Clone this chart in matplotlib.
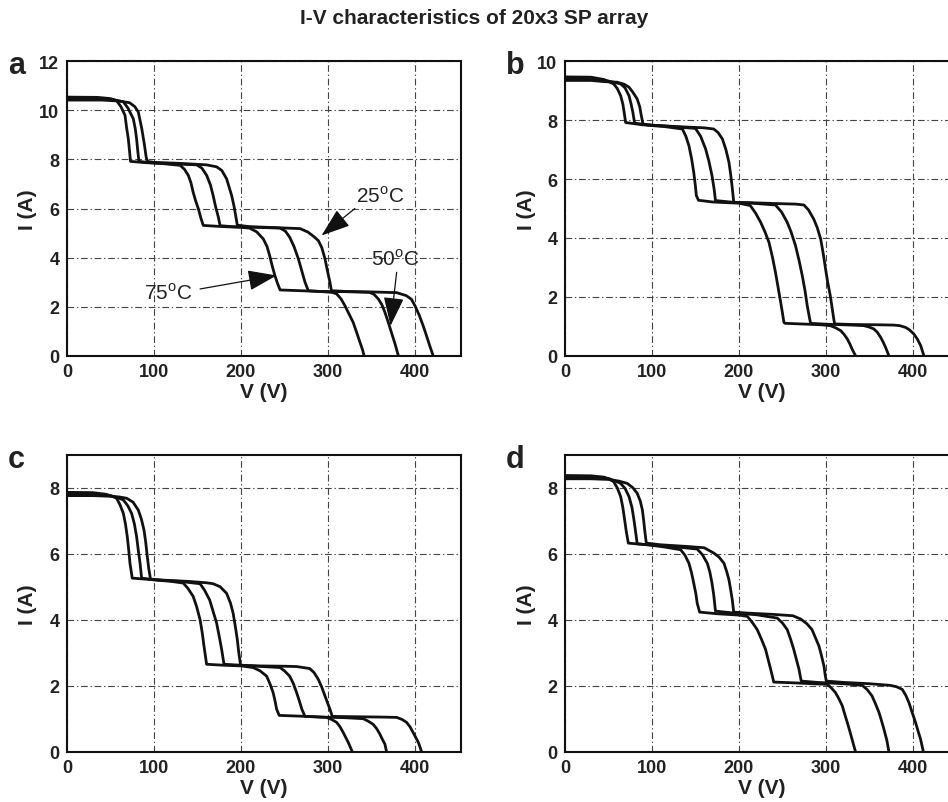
import matplotlib
matplotlib.use("Agg")
import matplotlib.pyplot as plt

plt.rcParams["font.family"] = ["Liberation Sans", "DejaVu Sans"]
plt.rcParams["mathtext.fontset"] = "custom"
plt.rcParams["mathtext.rm"] = "Liberation Sans"

# ---------------- panel a ----------------
v_a_25 = [0, 40, 60, 72, 78, 82, 86, 89, 91, 92.5,
          100, 130, 160, 172, 178, 183.5, 187, 189.3, 192, 194, 195.8,
          210, 240, 268, 277, 284, 289, 293, 296.6, 299.5, 302.3, 304,
          320, 350, 379, 390, 396, 400, 405, 409.5, 413, 417, 421]
i_a_25 = [10.42, 10.42, 10.38, 10.31, 10.15, 9.93, 9.25, 8.6, 8.1, 7.92,
          7.88, 7.84, 7.78, 7.7, 7.55, 7.21, 6.8, 6.53, 6.1, 5.7, 5.32,
          5.26, 5.22, 5.18, 5.04, 4.85, 4.69, 4.4, 3.95, 3.45, 3.0, 2.65,
          2.62, 2.6, 2.57, 2.45, 2.3, 2.04, 1.65, 1.22, 0.85, 0.41, 0.0]
v_a_50 = [0, 40, 55, 64.7, 70, 76.2, 78.5, 80, 81.5, 82.7,
          95, 120, 149, 155, 160.6, 165, 168, 171, 174, 176,
          190, 220, 245, 251, 256, 261, 266, 270, 273.6, 277.4,
          290, 320, 348, 353, 358, 362, 365.5, 369, 373, 377, 381]
i_a_50 = [10.48, 10.47, 10.42, 10.35, 10.1, 9.66, 9.25, 8.84, 8.3, 7.92,
          7.87, 7.82, 7.78, 7.65, 7.35, 6.95, 6.53, 6.05, 5.65, 5.3,
          5.26, 5.23, 5.2, 5.08, 4.83, 4.45, 3.95, 3.45, 3.0, 2.65,
          2.62, 2.61, 2.58, 2.5, 2.31, 2.08, 1.77, 1.4, 0.95, 0.5, 0.0]
v_a_75 = [0, 35, 50, 57, 62, 66.7, 68.5, 70.5, 72, 73,
          90, 110, 130, 135, 139.5, 142.5, 145, 148, 151, 154, 156.7,
          175, 200, 210, 218, 225.7, 230, 233, 236, 239, 242, 245,
          260, 290, 305, 310, 315, 319.5, 324, 329, 333, 336.8, 340, 341.5]
i_a_75 = [10.54, 10.53, 10.48, 10.4, 10.15, 9.8, 9.3, 8.84, 8.3, 7.92,
          7.87, 7.83, 7.76, 7.6, 7.35, 7.05, 6.67, 6.3, 5.99, 5.6, 5.31,
          5.27, 5.23, 5.2, 5.05, 4.76, 4.45, 4.08, 3.65, 3.27, 2.95, 2.68,
          2.66, 2.62, 2.58, 2.52, 2.32, 2.04, 1.72, 1.36, 0.95, 0.55, 0.22, 0.0]

# ---------------- panel b ----------------
v_b_25 = [0, 30, 45, 60, 68, 73.6, 78, 83, 86, 87, 89.6,
          100, 130, 160, 171, 176, 181, 185, 188.5, 190.5, 192, 193.2, 194,
          210, 240, 265, 274.7, 280, 286, 290, 294, 297, 299.6, 302, 305, 307, 309, 310,
          330, 360, 378, 385, 391.6, 396, 401, 405, 409, 412.6]
i_b_25 = [9.35, 9.35, 9.31, 9.29, 9.22, 9.12, 8.95, 8.72, 8.45, 8.27, 7.87,
          7.83, 7.78, 7.74, 7.7, 7.58, 7.36, 7.0, 6.57, 6.15, 5.78, 5.45, 5.21,
          5.2, 5.17, 5.15, 5.12, 4.95, 4.64, 4.35, 3.96, 3.45, 2.94, 2.5, 2.04, 1.65, 1.25, 1.08,
          1.06, 1.05, 1.04, 1.02, 0.96, 0.88, 0.74, 0.57, 0.34, 0.0]
v_b_50 = [0, 30, 50, 64, 69, 73.6, 76, 78, 80,
          95, 120, 150, 156, 161.7, 165.5, 169, 171.5, 173,
          190, 215, 242, 249, 255.5, 260, 265, 269, 272.8, 276, 278.5, 281, 282.4,
          300, 330, 343.7, 350, 355, 359, 363, 366, 368.6, 372.4]
i_b_50 = [9.41, 9.41, 9.33, 9.23, 9.1, 8.83, 8.55, 8.27, 7.9,
          7.84, 7.79, 7.72, 7.45, 7.02, 6.6, 6.12, 5.65, 5.27,
          5.22, 5.18, 5.12, 4.88, 4.53, 4.2, 3.74, 3.25, 2.72, 2.2, 1.7, 1.3, 1.1,
          1.07, 1.04, 1.02, 0.97, 0.91, 0.8, 0.62, 0.45, 0.28, 0.0]
v_b_75 = [0, 30, 45, 56, 60, 64, 66.5, 68, 69.7,
          90, 115, 135, 139, 142.5, 145.5, 148, 150, 151, 153.5,
          170, 200, 213, 219, 225, 230, 234.5, 238.5, 242, 245, 248, 250, 251.7, 253,
          270, 295, 305, 311, 317, 321, 324.5, 327.5, 330, 334]
i_b_75 = [9.47, 9.46, 9.38, 9.23, 9.08, 8.83, 8.55, 8.27, 7.92,
          7.84, 7.78, 7.7, 7.45, 7.13, 6.7, 6.23, 5.75, 5.44, 5.28,
          5.22, 5.18, 5.1, 4.85, 4.53, 4.2, 3.85, 3.35, 2.83, 2.32, 1.81, 1.45, 1.13, 1.1,
          1.08, 1.05, 1.02, 0.95, 0.85, 0.72, 0.57, 0.4, 0.23, 0.0]

# ---------------- panel c ----------------
v_c_25 = [0, 30, 50, 60, 68.6, 76, 82, 85.5, 88.5, 90.5, 92.3, 94, 96,
          110, 140, 160, 168, 176, 183.5, 188, 191, 193.5, 195.8, 197.5, 199.6,
          220, 250, 264, 279, 284, 289, 293, 296.6, 300, 302.3, 305,
          330, 360, 379, 385, 390.4, 394.5, 398, 401, 404, 407.7]
i_c_25 = [7.76, 7.76, 7.74, 7.72, 7.68, 7.56, 7.32, 7.05, 6.72, 6.35, 5.92, 5.55, 5.23,
          5.2, 5.16, 5.12, 5.09, 5.0, 4.8, 4.5, 4.2, 3.8, 3.4, 3.0, 2.62,
          2.6, 2.59, 2.58, 2.52, 2.4, 2.19, 1.95, 1.69, 1.45, 1.29, 1.07,
          1.06, 1.05, 1.04, 0.98, 0.89, 0.75, 0.58, 0.43, 0.28, 0.0]
v_c_50 = [0, 30, 50, 58, 64.8, 70, 74.3, 77.5, 80, 82, 84, 85.8,
          100, 130, 153, 158, 164, 168, 172, 175, 177.8, 180.5,
          200, 225, 245, 250, 256, 260, 264, 267, 270, 273.6,
          290, 320, 340.6, 346, 352, 356, 359.8, 362.5, 365.5, 367.4]
i_c_50 = [7.81, 7.81, 7.76, 7.7, 7.63, 7.45, 7.22, 6.9, 6.52, 6.1, 5.71, 5.26,
          5.21, 5.16, 5.09, 4.9, 4.6, 4.25, 3.9, 3.5, 3.1, 2.65,
          2.62, 2.58, 2.55, 2.45, 2.29, 2.08, 1.79, 1.55, 1.29, 1.07,
          1.05, 1.03, 1.0, 0.93, 0.83, 0.7, 0.53, 0.38, 0.23, 0.0]
v_c_75 = [0, 30, 45, 52, 57, 61, 64.8, 67.2, 69.3, 71, 72.4, 75,
          95, 120, 133.7, 139, 145, 149, 153, 155.5, 157.5, 160.5,
          180, 200, 214, 222, 229.5, 233.5, 237, 239.5, 241, 244,
          265, 285, 298.5, 304, 310, 314, 317.6, 320.5, 323.4, 328]
i_c_75 = [7.86, 7.85, 7.8, 7.74, 7.68, 7.48, 7.22, 6.9, 6.52, 6.1, 5.71, 5.26,
          5.22, 5.16, 5.11, 4.95, 4.71, 4.4, 4.0, 3.6, 3.2, 2.65,
          2.62, 2.6, 2.55, 2.45, 2.29, 2.05, 1.79, 1.5, 1.29, 1.1,
          1.08, 1.06, 1.04, 0.98, 0.89, 0.75, 0.58, 0.43, 0.28, 0.0]

# ---------------- panel d ----------------
v_d_25 = [0, 30, 50, 62, 71.6, 78, 83, 86.5, 89, 90.5, 91.6, 93.5,
          110, 140, 160, 171, 177, 182.8, 186, 188.5, 190.5, 192.3, 194,
          210, 240, 262, 271, 278, 284, 288, 292, 295, 297.7, 299, 300.4,
          320, 350, 374, 381, 387.7, 392, 395.4, 399, 403, 406, 408.8, 412]
i_d_25 = [8.27, 8.27, 8.25, 8.2, 8.13, 8.0, 7.83, 7.6, 7.32, 7.0, 6.72, 6.32,
          6.27, 6.22, 6.18, 6.02, 5.9, 5.71, 5.45, 5.21, 4.9, 4.61, 4.23,
          4.2, 4.16, 4.12, 4.02, 3.88, 3.7, 3.45, 3.2, 2.9, 2.6, 2.35, 2.14,
          2.1, 2.06, 2.01, 1.97, 1.89, 1.7, 1.49, 1.2, 0.89, 0.62, 0.38, 0.0]
v_d_50 = [0, 30, 50, 58, 64, 69, 73.6, 77, 79.3, 81, 83,
          100, 130, 152, 158, 163.6, 166.5, 169, 171, 173,
          195, 220, 244, 250, 255.5, 259.5, 263, 266, 269, 271.6,
          290, 320, 341.8, 347.5, 353, 357, 361, 364, 366.7, 370, 372.4]
i_d_50 = [8.32, 8.32, 8.28, 8.2, 8.13, 7.98, 7.73, 7.4, 7.02, 6.7, 6.3,
          6.26, 6.2, 6.14, 5.97, 5.71, 5.45, 5.11, 4.75, 4.26,
          4.2, 4.15, 4.05, 3.9, 3.7, 3.4, 3.1, 2.8, 2.5, 2.14,
          2.1, 2.06, 2.01, 1.88, 1.69, 1.45, 1.19, 0.93, 0.68, 0.35, 0.0]
v_d_75 = [0, 30, 45, 51, 56, 60, 64, 66.5, 68.6, 70.3, 72.8,
          95, 115, 133, 138, 142.5, 145.5, 148, 150.5, 152, 154.8,
          175, 200, 209.6, 215, 221, 226, 230.6, 233.5, 236.4, 238.5, 240,
          260, 285, 301.5, 306, 311, 315, 318.8, 321.5, 324.5, 327.5, 330, 334]
i_d_75 = [8.37, 8.36, 8.32, 8.26, 8.18, 8.0, 7.73, 7.4, 7.02, 6.7, 6.32,
          6.27, 6.2, 6.12, 5.95, 5.71, 5.42, 5.11, 4.78, 4.5, 4.23,
          4.18, 4.14, 4.1, 3.93, 3.7, 3.4, 3.1, 2.8, 2.5, 2.28, 2.11,
          2.09, 2.06, 2.04, 1.94, 1.79, 1.6, 1.39, 1.15, 0.89, 0.62, 0.38, 0.0]

panel_names = ["a", "b", "c", "d"]
y_limits = [12, 10, 9, 9]
y_ticks = [[0, 2, 4, 6, 8, 10, 12], [0, 2, 4, 6, 8, 10], [0, 2, 4, 6, 8], [0, 2, 4, 6, 8]]
x_ticks = [0, 100, 200, 300, 400]
x_max = 453

curves = {
    "a": [(v_a_25, i_a_25), (v_a_50, i_a_50), (v_a_75, i_a_75)],
    "b": [(v_b_25, i_b_25), (v_b_50, i_b_50), (v_b_75, i_b_75)],
    "c": [(v_c_25, i_c_25), (v_c_50, i_c_50), (v_c_75, i_c_75)],
    "d": [(v_d_25, i_d_25), (v_d_50, i_d_50), (v_d_75, i_d_75)],
}

W, H = 948, 803
fig = plt.figure(figsize=(W / 100, H / 100), dpi=100)

# axes boxes in pixels: left, top, right, bottom
boxes = [(67, 62.3, 461, 356.7), (565, 62.3, 959, 356.7),
         (67, 455.7, 461, 752.7), (565, 455.7, 959, 752.7)]

grid_style = dict(color="#444444", linewidth=0.8, linestyle=(0, (6, 2.5, 1.2, 2.5)))

axes = []
for k, name in enumerate(panel_names):
    l, t, r, b = boxes[k]
    ax = fig.add_axes([l / W, 1 - b / H, (r - l) / W, (b - t) / H])
    for v, i in curves[name]:
        ax.plot(v, i, color="#111111", linewidth=2.0, solid_joinstyle="round",
                solid_capstyle="butt", zorder=3)
    ax.set_xlim(0, x_max)
    ax.set_ylim(0, y_limits[k])
    ax.set_xticks(x_ticks)
    ax.set_yticks(y_ticks[k])
    ax.tick_params(length=0, pad=5.5, labelsize=13)
    for lab in ax.get_xticklabels() + ax.get_yticklabels():
        lab.set_fontweight("bold")
        lab.set_color("#222222")
    ax.grid(True, **grid_style)
    ax.set_axisbelow(True)
    for sp in ax.spines.values():
        sp.set_linewidth(1.5)
        sp.set_color("#111111")
    ax.set_xlabel("V (V)", fontsize=15, fontweight="bold", color="#222222")
    ax.set_ylabel("I (A)", fontsize=15, fontweight="bold", color="#222222")
    ax.xaxis.set_label_coords(0.5, -(b - t + 26) / (b - t) + 1)
    ax.yaxis.set_label_coords((37 - 67) / (r - l) if k % 2 == 0 else (536 - 565) / (r - l), 0.5)
    fig.text((l - 59) / W, 1 - (t + 4) / H, name, fontsize=22, fontweight="bold",
             color="#222222", ha="left", va="center")
    axes.append(ax)

fig.text(0.5, 1 - 19 / H, "I-V characteristics of 20x3 SP array",
         ha="center", va="center", fontsize=15, fontweight="bold", color="#222222")

# temperature labels on panel a
ax = axes[0]
arrow = dict(arrowstyle="-|>,head_length=0.9,head_width=0.32", color="#111111",
             lw=0.9, mutation_scale=20, shrinkA=0, shrinkB=0)
ax.annotate("", xy=(292.7, 4.9), xytext=(331, 6.0), arrowprops=arrow, zorder=5)
ax.annotate("", xy=(372, 1.22), xytext=(379, 3.4), arrowprops=arrow, zorder=5)
ax.annotate("", xy=(241, 3.27), xytext=(153, 2.72), arrowprops=arrow, zorder=5)
ax.text(360, 6.53, r"25$^{\mathrm{o}}$C", fontsize=15, ha="center", va="center",
        color="#222222", zorder=6)
ax.text(377, 3.97, r"50$^{\mathrm{o}}$C", fontsize=15, ha="center", va="center",
        color="#222222", zorder=6)
ax.text(116.5, 2.59, r"75$^{\mathrm{o}}$C", fontsize=15, ha="center", va="center",
        color="#222222", zorder=6)

fig.savefig("out.png", dpi=100)
